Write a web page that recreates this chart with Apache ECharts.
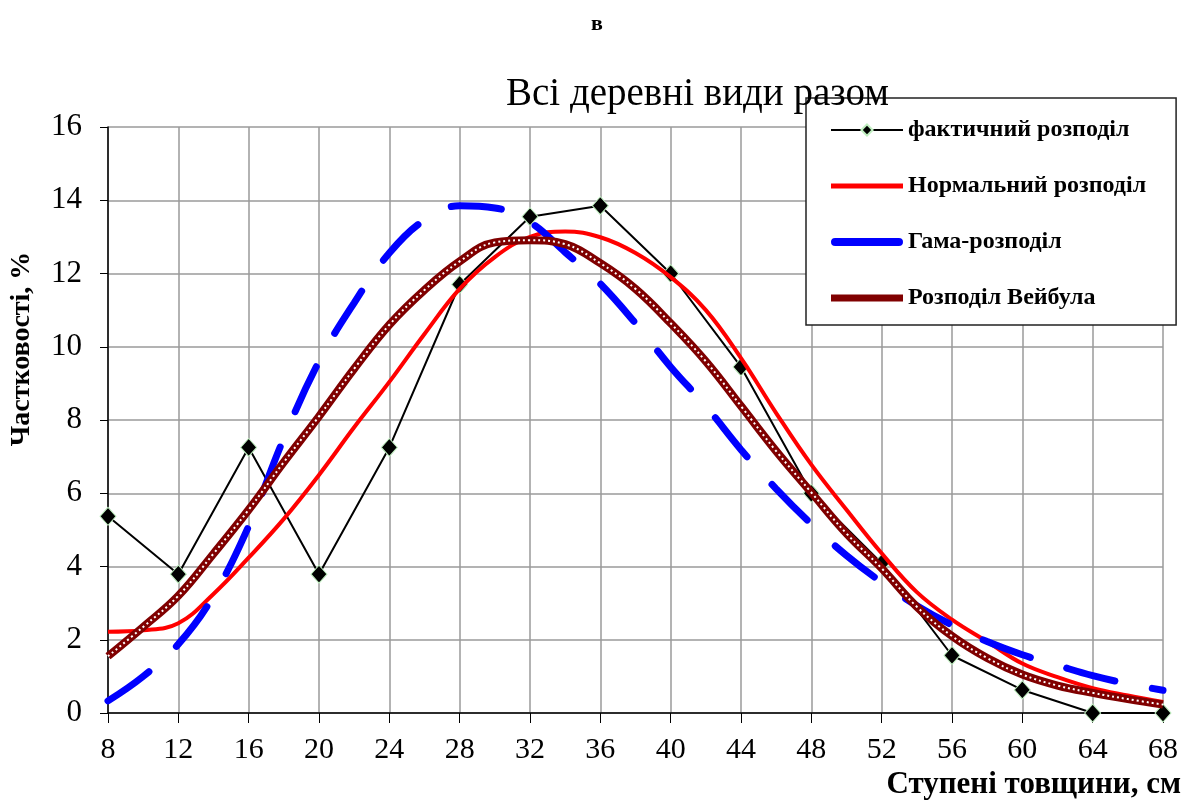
<!DOCTYPE html>
<html><head><meta charset="utf-8">
<script src="https://cdn.jsdelivr.net/npm/echarts@6/dist/echarts.min.js"></script>
<style>html,body{margin:0;padding:0;background:#fff}#c{width:1198px;height:800px}</style>
</head><body><div id="c"></div>
<script>
// Ступені товщини (categories, cm)
const classes = [8,12,16,20,24,28,32,36,40,44,48,52,56,60,64,68];
// Фактичний розподіл, %
const actual = [5.37,3.79,7.25,3.79,7.25,11.7,13.55,13.85,12.0,9.45,6.0,4.09,1.57,0.63,0,0];
// Fine x grid for fitted curves
const curveX = [8,10,12,14,16,18,20,22,24,26,28,30,32,34,36,38,40,42,44,46,48,50,52,54,56,58,60,62,64,66,68];
const normal = [2.22,2.26,2.45,3.25,4.24,5.3,6.5,7.8,9.04,10.35,11.58,12.45,13.0,13.15,12.99,12.56,11.9,11.0,9.69,8.19,6.78,5.55,4.36,3.3,2.55,1.95,1.35,0.98,0.68,0.48,0.3];
const gamma = [0.33,1.0,1.88,3.2,5.1,7.5,9.6,11.2,12.56,13.46,13.85,13.79,13.4,12.58,11.72,10.64,9.45,8.38,7.19,6.12,5.16,4.3,3.57,2.93,2.4,1.95,1.59,1.3,1.02,0.8,0.62];
const weibull = [1.55,2.35,3.2,4.35,5.55,6.85,8.1,9.4,10.6,11.55,12.33,12.85,12.91,12.8,12.28,11.58,10.64,9.6,8.38,7.15,6.02,4.9,3.95,2.9,2.1,1.5,1.05,0.75,0.55,0.38,0.23];
const yTicks = [0,2,4,6,8,10,12,14,16];

const names = ['фактичний розподіл','Нормальний розподіл','Гама-розподіл','Розподіл Вейбула'];
const pair = (xs, ys) => xs.map((x,i)=>[x, ys[i]]);
const serif = 'Liberation Serif';

const chart = echarts.init(document.getElementById('c'), null, {renderer:'canvas'});
chart.setOption({
  animation:false,
  backgroundColor:'#fff',
  title:[
    {text:'в', left:586, top:8, textStyle:{fontFamily:serif, fontWeight:'bold', fontSize:22, color:'#000'}},
    {text:'Всі деревні види разом', left:501, top:70, textStyle:{fontFamily:serif, fontWeight:'normal', fontSize:39, color:'#000'}},
    {text:'Ступені товщини, см', right:12, top:764, textStyle:{fontFamily:serif, fontWeight:'bold', fontSize:31, color:'#000'}}
  ],
  graphic:[
    {type:'text', x:22, y:349, rotation:Math.PI/2,
     style:{text:'Частковості, %', fontFamily:serif, fontWeight:'bold', fontSize:28, fill:'#000',
            align:'center', verticalAlign:'middle'}}
  ],
  grid:{left:108, right:35, top:127, bottom:87, containLabel:false},
  legend:{
    orient:'vertical', left:806, top:98,
    data:[
      {name:names[0]},
      {name:names[1], icon:'path://M0,0H72V5H0Z'},
      {name:names[2], icon:'path://M4,0H66A4,4 0 0 1 66,8H4A4,4 0 0 1 4,0Z'},
      {name:names[3], icon:'path://M0,0H72V7H0Z'}
    ],
    symbolKeepAspect:true,
    backgroundColor:'#fff', borderColor:'#222', borderWidth:1.5,
    padding:[20,30,15,24], itemGap:32, itemWidth:72, itemHeight:14,
    textStyle:{fontFamily:serif, fontWeight:'bold', fontSize:24, color:'#000'}
  },
  xAxis:{
    type:'value', min:8, max:68, interval:4,
    axisLine:{show:true, onZero:false, lineStyle:{color:'#000', width:1.5}},
    axisTick:{show:true, length:10, lineStyle:{color:'#000'}},
    axisLabel:{fontFamily:serif, fontSize:30, color:'#000', margin:22},
    splitLine:{show:true, lineStyle:{color:'#9a9a9a', width:1.5}}
  },
  yAxis:{
    type:'value', min:0, max:16, interval:2,
    axisLine:{show:true, lineStyle:{color:'#000', width:1.5}},
    axisTick:{show:true, length:8, lineStyle:{color:'#000'}},
    axisLabel:{fontFamily:serif, fontSize:31, color:'#000', margin:26,
      formatter:(v)=> yTicks.includes(v) ? String(v) : ''},
    splitLine:{show:true, lineStyle:{color:'#9a9a9a', width:1.5}}
  },
  series:[
    {name:names[0], type:'line', data:pair(classes, actual),
     symbol:'diamond', symbolSize:[16,18],
     itemStyle:{color:'#000', borderColor:'#bfeebf', borderWidth:1},
     lineStyle:{color:'#000', width:2}, z:2},
    {name:names[1], type:'line', data:pair(curveX, normal), smooth:0.4,
     showSymbol:false, symbol:'none', itemStyle:{color:'#ff0000'},
     lineStyle:{color:'#ff0000', width:4}, z:3},
    {name:names[2], type:'line', data:pair(curveX, gamma), smooth:0.4,
     showSymbol:false, symbol:'none', itemStyle:{color:'#0000ff'},
     lineStyle:{color:'#0000ff', width:7, type:[50,38], cap:'round'}, z:4},
    {name:names[3], type:'line', data:pair(curveX, weibull), smooth:0.4,
     showSymbol:false, symbol:'none', itemStyle:{color:'#800000'},
     lineStyle:{color:'#800000', width:8}, z:5},
    {name:'weibull-dots', type:'line', data:pair(curveX, weibull), smooth:0.4,
     showSymbol:false, symbol:'none', silent:true,
     lineStyle:{color:'#ffffff', width:2, type:[2,3]}, z:6}
  ]
});
</script></body></html>
